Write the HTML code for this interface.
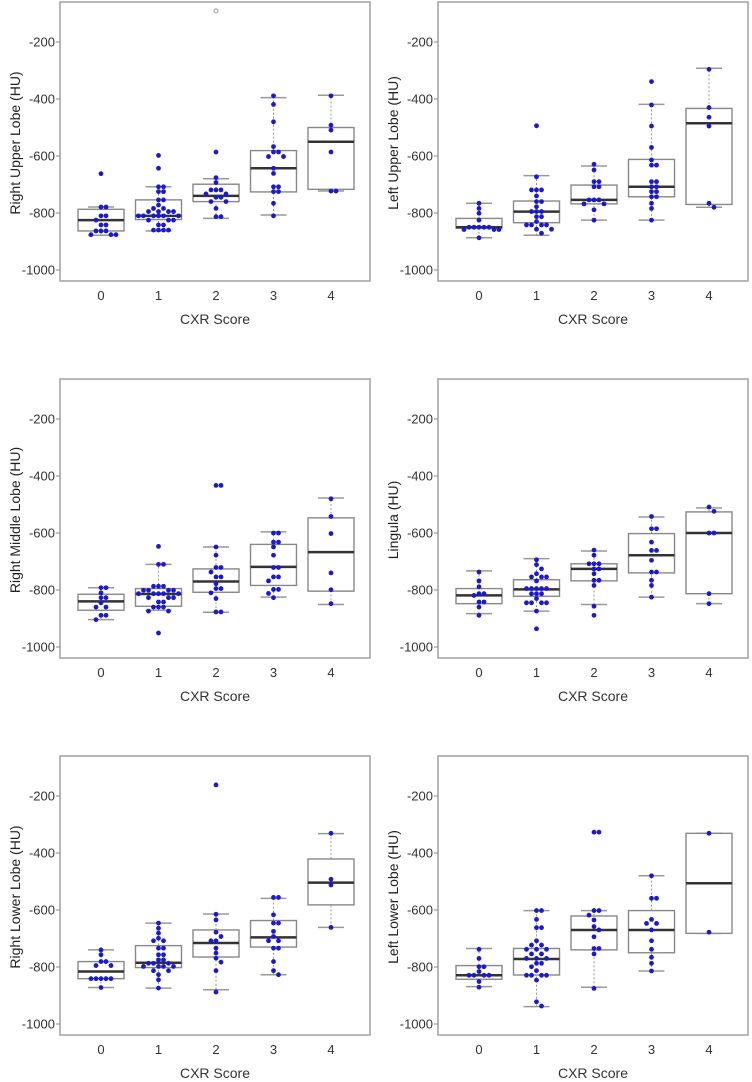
<!DOCTYPE html>
<html><head><meta charset="utf-8"><style>
html,body{margin:0;padding:0;background:#fff;}
svg{display:block;font-family:"Liberation Sans",Arial,sans-serif;}
</style></head><body>
<svg id="chart" width="752" height="1082" viewBox="0 0 752 1082"></svg>
<script>
const categories = ["0","1","2","3","4"];
const yTicks = [-200,-400,-600,-800,-1000];
const titles = ["Right Upper Lobe (HU)","Left Upper Lobe (HU)","Right Middle Lobe (HU)","Lingula (HU)","Right Lower Lobe (HU)","Left Lower Lobe (HU)"];
// box stats per panel: [whiskerLow, q1, median, q3, whiskerHigh]
const boxRUL = [[-878,-863,-825,-787,-779],[-863,-823,-810,-754,-708],[-819,-760,-740,-699,-680],[-807,-726,-643,-581,-395],[-723,-717,-550,-500,-387]];
const boxLUL = [[-887,-853,-850,-819,-766],[-878,-834,-795,-758,-669],[-825,-768,-754,-702,-635],[-825,-743,-708,-612,-419],[-780,-770,-485,-433,-292]];
const boxRML = [[-904,-871,-840,-815,-792],[-871,-857,-814,-795,-710],[-878,-808,-770,-726,-649],[-825,-784,-719,-640,-596],[-851,-804,-667,-547,-477]];
const boxLIN = [[-883,-848,-819,-795,-733],[-874,-822,-798,-764,-690],[-851,-768,-726,-708,-663],[-825,-740,-678,-602,-544],[-848,-813,-600,-526,-512]];
const boxRLL = [[-872,-841,-816,-781,-740],[-874,-802,-785,-725,-646],[-880,-765,-716,-670,-614],[-827,-730,-696,-637,-559],[-661,-582,-504,-421,-332]];
const boxLLL = [[-869,-843,-829,-795,-735],[-939,-828,-772,-735,-602],[-871,-740,-670,-621,-602],[-814,-750,-670,-602,-480],[-682,-682,-506,-331,-331]];
// open-circle outliers per panel: [group, value]
const outliersRUL = [[2,-91]];
// points per panel per group
const ptsRUL = [
 [-662,-779,-779,-810,-810,-825,-842,-842,-863,-863,-863,-876,-876,-876],
 [-598,-643,-708,-708,-725,-725,-754,-754,-772,-784,-784,-795,-795,-795,-795,-810,-810,-810,-810,-810,-810,-825,-825,-825,-842,-842,-860,-860,-860,-860],
 [-586,-676,-693,-719,-719,-719,-733,-733,-745,-745,-760,-760,-784,-813,-813],
 [-389,-419,-480,-567,-586,-586,-602,-602,-643,-661,-708,-708,-725,-725,-766,-810],
 [-389,-492,-509,-586,-723,-723]];
const ptsLUL = [
 [-766,-784,-801,-825,-850,-850,-850,-850,-850,-858,-858,-858,-887],
 [-494,-673,-719,-719,-719,-740,-760,-760,-778,-795,-795,-795,-813,-813,-830,-842,-842,-842,-842,-857,-857,-871],
 [-629,-649,-690,-690,-708,-708,-754,-754,-754,-768,-768,-789,-825],
 [-339,-421,-495,-570,-614,-632,-632,-690,-690,-708,-708,-725,-725,-743,-743,-766,-784,-825],
 [-296,-430,-464,-495,-766,-780]];
const ptsRML = [
 [-792,-792,-810,-827,-827,-845,-860,-860,-889,-889,-904],
 [-647,-710,-710,-787,-787,-787,-801,-801,-801,-801,-813,-813,-813,-813,-813,-827,-827,-827,-842,-842,-860,-860,-860,-874,-874,-951],
 [-433,-433,-649,-678,-721,-721,-737,-754,-754,-778,-795,-795,-810,-830,-877,-877],
 [-600,-600,-632,-632,-649,-678,-721,-721,-754,-754,-768,-798,-798,-812,-827],
 [-480,-542,-602,-740,-799,-848]];
const ptsLIN = [
 [-737,-768,-789,-813,-813,-819,-842,-842,-860,-889],
 [-694,-711,-726,-743,-754,-754,-754,-768,-795,-795,-795,-795,-795,-813,-813,-813,-830,-845,-845,-845,-845,-874,-936],
 [-660,-678,-708,-708,-708,-726,-726,-743,-766,-766,-784,-857,-889],
 [-542,-585,-585,-632,-661,-661,-696,-737,-737,-766,-784,-825],
 [-509,-524,-600,-600,-813,-848]];
const ptsRLL = [
 [-740,-757,-781,-781,-795,-795,-841,-841,-841,-841,-841,-872],
 [-646,-664,-681,-699,-708,-708,-734,-734,-757,-757,-775,-775,-787,-787,-787,-798,-798,-798,-798,-813,-813,-827,-845,-874],
 [-161,-615,-635,-678,-693,-708,-708,-734,-751,-769,-783,-813,-888],
 [-556,-556,-617,-646,-646,-675,-693,-708,-708,-734,-734,-781,-813,-827],
 [-331,-492,-512,-661]];
const ptsLLL = [
 [-738,-770,-799,-799,-816,-829,-829,-829,-829,-851,-871],
 [-602,-602,-633,-662,-662,-708,-723,-723,-738,-738,-738,-754,-754,-770,-770,-770,-787,-787,-799,-813,-829,-829,-829,-829,-846,-922,-937],
 [-327,-327,-602,-602,-618,-635,-658,-670,-694,-735,-735,-754,-875],
 [-480,-559,-559,-633,-647,-647,-670,-708,-738,-766,-787,-814],
 [-331,-678]];

const boxes=[boxRUL,boxLUL,boxRML,boxLIN,boxRLL,boxLLL];
const pts=[ptsRUL,ptsLUL,ptsRML,ptsLIN,ptsRLL,ptsLLL];
const outs=[outliersRUL,[],[],[],[],[]];
const NS="http://www.w3.org/2000/svg";
const svg=document.getElementById('chart');
function mk(tag,attrs,parent){const e=document.createElementNS(NS,tag);for(const k in attrs)e.setAttribute(k,attrs[k]);(parent||svg).appendChild(e);return e;}

for(let p=0;p<6;p++){
  const col=p%2,row=Math.floor(p/2);
  const ox=col*378, oy=row*377;
  const g=mk('g',{});
  
  
  const L=60+ox,R=370+ox,T=2+oy,B=281+oy;
  const yS=v=>oy+42+(-200-v)*0.285;
  const xS=i=>ox+101+i*57.5;
  const fr=mk('rect',{x:L,y:T,width:R-L,height:B-T,fill:'none',stroke:'#a0a0a0','stroke-width':1.5},g);
  
  
  yTicks.forEach(t=>{
    const y=yS(t);
    mk('line',{x1:L-4,x2:L,y1:y,y2:y,stroke:'#888'},g);
    const tx=mk('text',{x:L-5,y:y+4.5,'text-anchor':'end','font-size':13,fill:'#333'},g);
    tx.textContent=String(t);
    
    
  });
  categories.forEach((c,i)=>{
    const tx=mk('text',{x:xS(i),y:oy+300,'text-anchor':'middle','font-size':13,fill:'#333'},g);
    tx.textContent=c;
    
    
  });
  const xt=mk('text',{x:(L+R)/2,y:oy+324,'text-anchor':'middle','font-size':14,fill:'#333'},g);
  xt.textContent='CXR Score';
  
  
  const yt=mk('text',{x:0,y:0,'text-anchor':'middle','font-size':14,fill:'#222',transform:`translate(${ox+20},${oy+143}) rotate(-90)`},g);
  yt.textContent=titles[p];
  
  
  boxes[p].forEach((b,i)=>{
    const x=xS(i),hw=23,cw=13;
    const bg=mk('g',{},g);
    
    
    mk('line',{x1:x,x2:x,y1:yS(b[0]),y2:yS(b[1]),stroke:'#999','stroke-dasharray':'2,2'},bg);
    mk('line',{x1:x,x2:x,y1:yS(b[3]),y2:yS(b[4]),stroke:'#999','stroke-dasharray':'2,2'},bg);
    mk('line',{x1:x-cw,x2:x+cw,y1:yS(b[0]),y2:yS(b[0]),stroke:'#999','stroke-width':1.5},bg);
    mk('line',{x1:x-cw,x2:x+cw,y1:yS(b[4]),y2:yS(b[4]),stroke:'#999','stroke-width':1.5},bg);
    mk('rect',{x:x-hw,y:yS(b[3]),width:2*hw,height:Math.max(0.5,yS(b[1])-yS(b[3])),fill:'#fff',stroke:'#888','stroke-width':1.4},bg);
    mk('line',{x1:x-hw,x2:x+hw,y1:yS(b[2]),y2:yS(b[2]),stroke:'#333','stroke-width':2.5},bg);
  });
  outs[p].forEach(o=>{
    const c=mk('circle',{cx:xS(o[0]),cy:yS(o[1]),r:2,fill:'none',stroke:'#999'},g);
    
    
  });
  pts[p].forEach((arr,i)=>{
    const placed=[];
    arr.forEach(v=>{
      const y=yS(v);let dx=0;
      const cands=[0,5,-5,10,-10,15,-15,20,-20];
      for(const d of cands){
        if(placed.every(q=>Math.hypot(q[0]-d,q[1]-y)>=4.6)){dx=d;break;}
      }
      placed.push([dx,y]);
      const c=mk('circle',{cx:xS(i)+dx,cy:y,r:2.4,fill:'#1a1acc'},g);
      
      
    });
  });
}
</script>
</body></html>
